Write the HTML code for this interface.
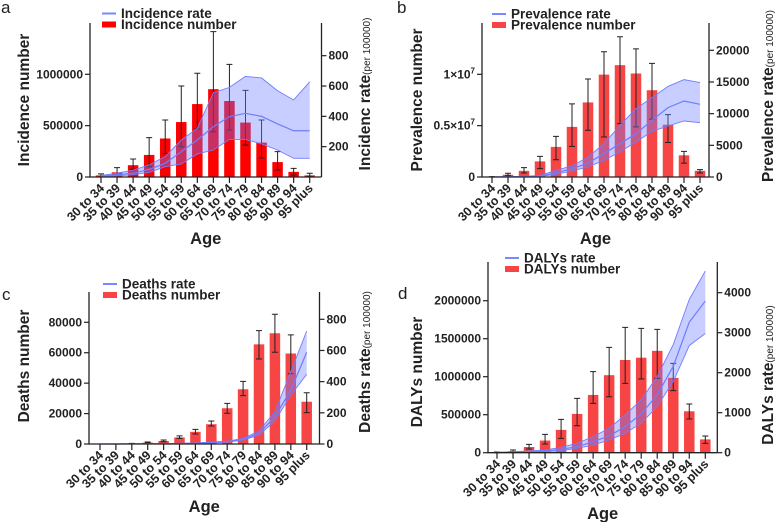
<!DOCTYPE html>
<html><head><meta charset="utf-8"><style>
html,body{margin:0;padding:0;background:#fff;}
svg{display:block;font-family:"Liberation Sans",Arial,sans-serif;}
</style></head><body>
<svg id="fig" width="777" height="522" viewBox="0 0 777 522" xmlns="http://www.w3.org/2000/svg"></svg>
<script>
const ages = ["30 to 34","35 to 39","40 to 44","45 to 49","50 to 54","55 to 59","60 to 64","65 to 69","70 to 74","75 to 79","80 to 84","85 to 89","90 to 94","95 plus"];

// Panel a: Incidence
const aNum = [15000,45000,115000,215000,375000,535000,710000,855000,740000,530000,335000,145000,50000,15000];
const aNumLo = [0,20000,75000,100000,227000,295000,468000,441000,458000,312000,185000,68000,19000,10000];
const aNumHi = [30000,91000,175000,383000,555000,886000,1010000,1415000,1097000,844000,555000,247000,84000,36000];
const aRate = [5,15,25,50,90,167,244,332,398,420,400,350,305,305];
const aRateLo = [3,8,15,30,68,86,152,178,248,248,218,178,123,123];
const aRateHi = [10,25,45,80,134,244,321,556,591,664,653,569,508,628];
const aLeftTicks = [0,500000,1000000];
const aLeftLabels = ["0","500000","1000000"];
const aRightTicks = [200,400,600,800];
const aRightLabels = ["200","400","600","800"];

// Panel b: Prevalence
const bNum = [20000,220000,600000,1520000,2930000,4880000,7260000,9970000,10890000,10080000,8450000,5090000,2110000,600000];
const bNumLo = [0,160000,390000,810000,1680000,2980000,4550000,3900000,5200000,4880000,5640000,3360000,1350000,390000];
const bNumHi = [40000,360000,910000,2010000,3950000,7120000,9540000,12200000,13660000,12470000,11060000,6070000,2490000,720000];
const bRate = [0,20,60,150,680,1300,2200,3700,5260,6840,8950,10950,12000,11470];
const bRateLo = [0,10,30,100,420,950,1580,2630,3950,5530,7210,8050,8840,8580];
const bRateHi = [0,40,100,250,1050,1740,3160,5260,8160,10790,12530,14300,15370,14900];
const bLeftTicks = [0,5000000,10000000];
const bRightTicks = [0,5000,10000,15000,20000];
const bRightLabels = ["0","5000","10000","15000","20000"];

// Panel c: Deaths
const cNum = [0,0,300,900,2000,4300,8000,13000,23500,36000,65500,72800,59500,27800];
const cNumLo = [0,0,200,700,1500,3700,6600,11800,20200,31800,55900,60300,46200,20600];
const cNumHi = [0,0,450,1300,2600,5300,9600,15100,26700,41200,74500,85300,71700,33700];
const cRate = [0,0,1,1,2,3,5,10,15,30,68,175,346,588];
const cRateLo = [0,0,0,1,1,2,4,8,12,25,58,148,314,447];
const cRateHi = [0,0,1,2,3,4,7,12,18,36,83,207,464,725];
const cLeftTicks = [0,20000,40000,60000,80000];
const cLeftLabels = ["0","20000","40000","60000","80000"];
const cRightTicks = [0,200,400,600,800];
const cRightLabels = ["0","200","400","600","800"];

// Panel d: DALYs
const dNum = [5000,20000,75000,160000,300000,510000,760000,1020000,1220000,1250000,1340000,985000,545000,175000];
const dNumLo = [0,13000,48000,114000,189000,355000,649000,737000,912000,969000,978000,816000,443000,123000];
const dNumHi = [10000,35000,110000,241000,439000,715000,1066000,1386000,1649000,1636000,1623000,1175000,640000,219000];
const dRate = [5,15,30,42,84,150,276,418,653,971,1448,2159,3264,3791];
const dRateLo = [3,8,18,25,50,109,192,318,485,736,1155,1782,2678,2979];
const dRateHi = [8,25,45,67,134,234,402,611,946,1322,1908,2703,3833,4544];
const dLeftTicks = [0,500000,1000000,1500000,2000000];
const dLeftLabels = ["0","500000","1000000","1500000","2000000"];
const dRightTicks = [0,1000,2000,3000,4000];
const dRightLabels = ["0","1000","2000","3000","4000"];

const NS = "http://www.w3.org/2000/svg";
const fig = document.getElementById('fig');
function mk(tag, attrs, parent, text){
  const e = document.createElementNS(NS, tag);
  for (const k in attrs) e.setAttribute(k, attrs[k]);
  if (text !== undefined) e.textContent = text;
  (parent || fig).appendChild(e);
  return e;
}

function panel(o){
  const g = mk('g', {});
  
  
  const yL = v => o.base - (v / o.lUnit) * o.lPx;
  const yR = v => o.base - (v / o.rUnit) * o.rPx;
  const step = (o.x1 - o.x0) / (ages.length - 1);
  const xC = i => o.x0 + i * step;
  const pl = mk('text', {x:o.letter[0], y:o.letter[1], 'font-size':17, fill:'#222'}, g, o.key);
  
  
  const bw = 10.5;
  o.num.forEach((v,i) => {
    const b = mk('rect', {x:xC(i)-bw/2, y:yL(v), width:bw, height:Math.max(0,o.base-yL(v)), fill:o.barColor}, g);
    
    
  });
  o.num.forEach((v,i) => {
    const x = xC(i), lo = yL(o.lo[i]), hi = yL(o.hi[i]);
    const eb = mk('path', {d:`M${x},${lo}V${hi}M${x-3},${lo}H${x+3}M${x-3},${hi}H${x+3}`, stroke:'#222', 'stroke-width':1, fill:'none'}, g);
    
    
  });
  let d = '';
  o.rHi.forEach((v,i) => { d += (i?'L':'M') + xC(i) + ',' + yR(v); });
  for (let i = o.rLo.length-1; i >= 0; i--) d += 'L' + xC(i) + ',' + yR(o.rLo[i]);
  const band = mk('path', {d:d+'Z', fill:'rgba(110,125,255,0.38)', stroke:'none'}, g);
  
  
  [o.rHi, o.rLo, o.rate].forEach((arr, k) => {
    const p = arr.map((v,i) => xC(i) + ',' + yR(v)).join(' ');
    const pl2 = mk('polyline', {points:p, fill:'none', stroke:'#6e7dff', 'stroke-width': k==2 ? 1.2 : 0.9}, g);
    
    
  });
  const ax = mk('path', {d:`M${o.xl},${o.top}V${o.base}H${o.xr}M${o.xr},${o.top}V${o.base}`, stroke:'#222', 'stroke-width':1.3, fill:'none'}, g);
  
  
  o.lTicks.forEach((v,i) => {
    const y = yL(v);
    mk('line', {x1:o.xl-5, x2:o.xl, y1:y, y2:y, stroke:'#222', 'stroke-width':1.2}, g);
    if (o.lHTML) {
      const t = mk('text', {x:o.xl-7, y:y+4, 'font-size':12, 'font-weight':'bold', 'text-anchor':'end', fill:'#222'}, g);
      
      
      const lab = o.lHTML[i];
      mk('tspan', {}, t, lab[0]);
      if (lab[1]) mk('tspan', {'font-size':8, dy:-5}, t, lab[1]);
    } else {
      const t = mk('text', {x:o.xl-7, y:y+4, 'font-size':12, 'font-weight':'bold', 'text-anchor':'end', fill:'#222'}, g, o.lLabels[i]);
      
      
    }
  });
  o.rTicks.forEach((v,i) => {
    const y = yR(v);
    mk('line', {x1:o.xr, x2:o.xr+5, y1:y, y2:y, stroke:'#222', 'stroke-width':1.2}, g);
    const t = mk('text', {x:o.xr+7, y:y+4, 'font-size':12, 'font-weight':'bold', fill:'#222'}, g, o.rLabels[i]);
    
    
  });
  ages.forEach((a,i) => {
    const x = xC(i);
    mk('line', {x1:x, x2:x, y1:o.base, y2:o.base+6, stroke:'#222', 'stroke-width':1.2}, g);
    const t = mk('text', {x:x+4, y:o.base+12, 'font-size':12.5, 'font-weight':'bold', 'text-anchor':'end', fill:'#222', transform:`rotate(-45 ${x+4} ${o.base+12})`}, g, a);
    
    
  });
  const ag = mk('text', {x:(o.xl+o.xr)/2, y:o.ageY, 'font-size':16.5, 'font-weight':'bold', 'text-anchor':'middle', fill:'#222'}, g, 'Age');
  
  
  const lt = mk('text', {x:o.lTitleX, y:o.lTitleY, 'font-size':15.5, 'font-weight':'bold', 'text-anchor':'middle', fill:'#222', transform:`rotate(-90 ${o.lTitleX} ${o.lTitleY})`}, g, o.lTitle);
  
  
  const rt = mk('text', {x:o.rTitleX, y:o.rTitleY, 'font-size':15.5, 'font-weight':'bold', 'text-anchor':'middle', fill:'#222', transform:`rotate(-90 ${o.rTitleX} ${o.rTitleY})`}, g);
  
  
  mk('tspan', {}, rt, o.rTitle);
  mk('tspan', {'font-size':10, 'font-weight':'normal'}, rt, '(per 100000)');
  const lg = mk('g', {}, g);
  
  
  const [lx, ly] = o.leg;
  const l1 = mk('line', {x1:lx, x2:lx+14, y1:ly, y2:ly, stroke:'#7a88ff', 'stroke-width':2}, lg);
  
  
  const t1 = mk('text', {x:lx+19, y:ly+4.5, 'font-size':13.5, 'font-weight':'bold', fill:'#222'}, lg, o.legRate);
  
  
  const r2 = mk('rect', {x:lx, y:ly+8, width:14, height:6, fill:o.barColor}, lg);
  
  
  const t2 = mk('text', {x:lx+19, y:ly+15.5, 'font-size':13.5, 'font-weight':'bold', fill:'#222'}, lg, o.legNum);
  
  
}

panel({key:'a', letter:[1,13], num:aNum, lo:aNumLo, hi:aNumHi, rate:aRate, rLo:aRateLo, rHi:aRateHi,
  base:177, top:23, xl:90, xr:321.5, x0:101, x1:309.7, lUnit:1000000, lPx:102.7, rUnit:800, rPx:121.3,
  lTicks:aLeftTicks, lLabels:aLeftLabels, rTicks:aRightTicks, rLabels:aRightLabels, barColor:'#ff0000',
  ageY:244, lTitleX:29, lTitleY:100, rTitleX:370, rTitleY:94, lTitle:'Incidence number', rTitle:'Incidenc rate',
  leg:[102,13.5], legRate:'Incidence rate', legNum:'Incidence number'});

panel({key:'b', letter:[397,13], num:bNum, lo:bNumLo, hi:bNumHi, rate:bRate, rLo:bRateLo, rHi:bRateHi,
  base:177, top:23, xl:482, xr:709, x0:492, x1:700, lUnit:10000000, lPx:102.7, rUnit:20000, rPx:126.7,
  lTicks:bLeftTicks, lHTML:[["0"],["0.5×10","7"],["1×10","7"]], rTicks:bRightTicks, rLabels:bRightLabels, barColor:'#f74444',
  ageY:244, lTitleX:422, lTitleY:100, rTitleX:773, rTitleY:96, lTitle:'Prevalence number', rTitle:'Prevalence rate',
  leg:[492,14], legRate:'Prevalence rate', legNum:'Prevalence number'});

panel({key:'c', letter:[2,300], num:cNum, lo:cNumLo, hi:cNumHi, rate:cRate, rLo:cRateLo, rHi:cRateHi,
  base:444, top:292, xl:89, xr:319.5, x0:100, x1:306.7, lUnit:80000, lPx:121.7, rUnit:800, rPx:124.7,
  lTicks:cLeftTicks, lLabels:cLeftLabels, rTicks:cRightTicks, rLabels:cRightLabels, barColor:'#f74444',
  ageY:512, lTitleX:29, lTitleY:366, rTitleX:370, rTitleY:362, lTitle:'Deaths number', rTitle:'Deaths rate',
  leg:[103,284], legRate:'Deaths rate', legNum:'Deaths number'});

panel({key:'d', letter:[398,299], num:dNum, lo:dNumLo, hi:dNumHi, rate:dRate, rLo:dRateLo, rHi:dRateHi,
  base:452.7, top:262, xl:488, xr:717.3, x0:497, x1:705.3, lUnit:2000000, lPx:152, rUnit:4000, rPx:160,
  lTicks:dLeftTicks, lLabels:dLeftLabels, rTicks:dRightTicks, rLabels:dRightLabels, barColor:'#f74444',
  ageY:519, lTitleX:422, lTitleY:372, rTitleX:773, rTitleY:375, lTitle:'DALYs number', rTitle:'DALYs rate',
  leg:[505,258], legRate:'DALYs rate', legNum:'DALYs number'});
</script>
</body></html>
